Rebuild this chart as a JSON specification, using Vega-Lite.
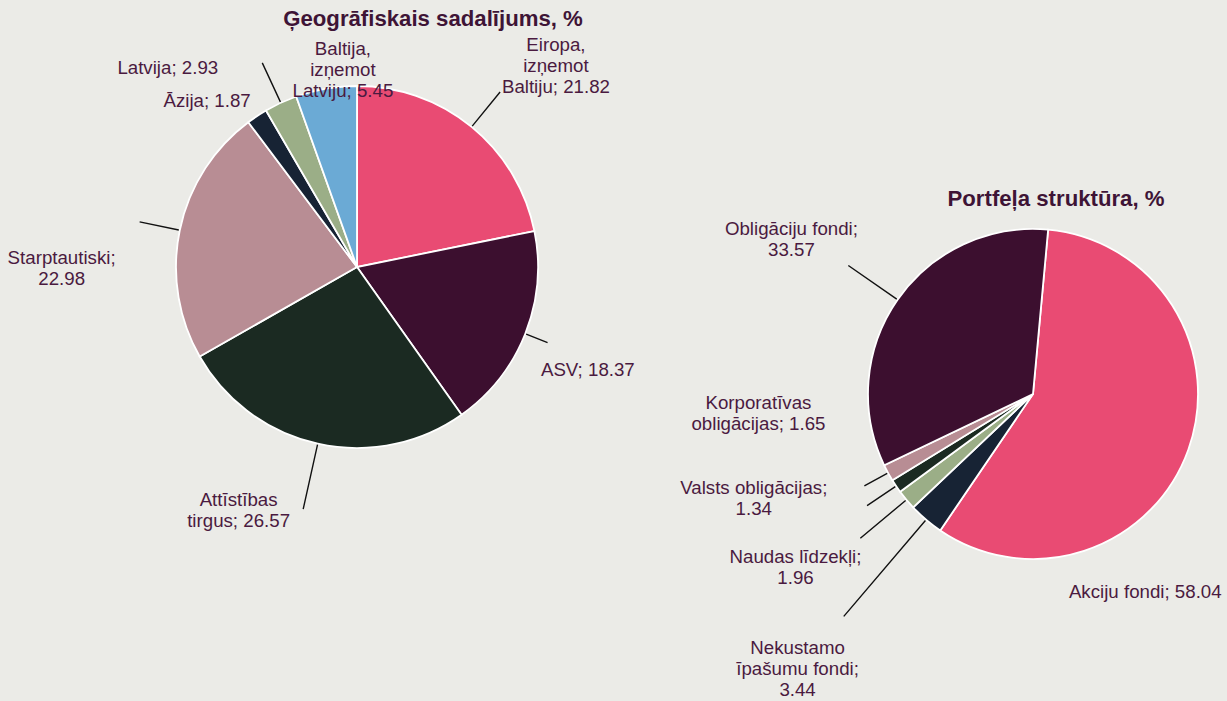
{
  "$schema": "https://vega.github.io/schema/vega-lite/v6.json",
  "background": "#EBEBE7",
  "padding": 0,
  "bounds": "flush",
  "spacing": 125,
  "config": {
    "view": {"stroke": null},
    "font": "Liberation Sans",
    "text": {"font": "Liberation Sans", "fontSize": 18.7, "lineHeight": 21, "color": "#4A1A40", "lineBreak": "\n", "baseline": "middle"},
    "title": {"font": "Liberation Sans", "fontSize": 22.2, "fontWeight": "bold", "color": "#3E1436", "anchor": "middle", "frame": "group"}
  },
  "resolve": {"scale": {"theta": "independent", "color": "independent"}},
  "datasets": {
    "geo": [
      {"k": 1, "cat": "Eiropa, izņemot Baltiju", "value": 21.82, "label": "Eiropa,\nizņemot\nBaltiju; 21.82"},
      {"k": 2, "cat": "ASV", "value": 18.37, "label": "ASV; 18.37"},
      {"k": 3, "cat": "Attīstības tirgus", "value": 26.57, "label": "Attīstības\ntirgus; 26.57"},
      {"k": 4, "cat": "Starptautiski", "value": 22.98, "label": "Starptautiski;\n22.98"},
      {"k": 5, "cat": "Āzija", "value": 1.87, "label": "Āzija; 1.87"},
      {"k": 6, "cat": "Latvija", "value": 2.93, "label": "Latvija; 2.93"},
      {"k": 7, "cat": "Baltija, izņemot Latviju", "value": 5.45, "label": "Baltija,\nizņemot\nLatviju; 5.45"}
    ],
    "port": [
      {"k": 1, "cat": "Akciju fondi", "value": 58.04, "label": "Akciju fondi; 58.04"},
      {"k": 2, "cat": "Nekustamo īpašumu fondi", "value": 3.44, "label": "Nekustamo\nīpašumu fondi;\n3.44"},
      {"k": 3, "cat": "Naudas līdzekļi", "value": 1.96, "label": "Naudas līdzekļi;\n1.96"},
      {"k": 4, "cat": "Valsts obligācijas", "value": 1.34, "label": "Valsts obligācijas;\n1.34"},
      {"k": 5, "cat": "Korporatīvas obligācijas", "value": 1.65, "label": "Korporatīvas\nobligācijas; 1.65"},
      {"k": 6, "cat": "Obligāciju fondi", "value": 33.57, "label": "Obligāciju fondi;\n33.57"}
    ]
  },
  "hconcat": [
    {
      "width": 714,
      "height": 534,
      "title": {"text": "Ģeogrāfiskais sadalījums, %", "dx": 76, "offset": -30},
      "data": {"name": "geo"},
      "transform": [
        {"stack": "value", "groupby": [], "sort": [{"field": "k", "order": "ascending"}], "as": ["v0", "v1"]},
        {"window": [{"op": "mean", "field": "v0", "as": "midA"}], "sort": [{"field": "k", "order": "ascending"}], "frame": [0, 1]},
        {"window": [{"op": "mean", "field": "v1", "as": "midB"}], "sort": [{"field": "k", "order": "ascending"}], "frame": [-1, 0]}
      ],
      "layer": [
        {
          "mark": {"type": "arc", "radius": 181, "stroke": "#ffffff", "strokeWidth": 1.8},
          "encoding": {
            "theta": {"field": "v0", "type": "quantitative", "scale": {"domain": [0, 99.99], "nice": false, "zero": true}},
            "theta2": {"field": "v1"},
            "color": {"field": "cat", "type": "nominal", "legend": null,
              "scale": {"domain": ["Eiropa, izņemot Baltiju", "ASV", "Attīstības tirgus", "Starptautiski", "Āzija", "Latvija", "Baltija, izņemot Latviju"],
                        "range": ["#E94B73", "#3C0F2F", "#1B2A22", "#B88D94", "#172334", "#9BAE87", "#6BAAD5"]}}
          }
        },
        {"transform": [{"filter": "datum.k === 1"}],
         "mark": {"type": "arc", "radius": 226, "radius2": 182, "padAngle": 3.14159, "filled": false, "color": "#111111", "strokeWidth": 1.4},
         "encoding": {"theta": {"field": "v0", "type": "quantitative", "scale": {"domain": [0, 99.99], "nice": false, "zero": true}}, "theta2": {"field": "v1"}}},
        {"transform": [{"filter": "datum.k === 2"}],
         "mark": {"type": "arc", "radius": 205, "radius2": 182, "padAngle": 3.14159, "filled": false, "color": "#111111", "strokeWidth": 1.4},
         "encoding": {"theta": {"field": "v0", "type": "quantitative", "scale": {"domain": [0, 99.99], "nice": false, "zero": true}}, "theta2": {"field": "v1"}}},
        {"transform": [{"filter": "datum.k === 3"}],
         "mark": {"type": "arc", "radius": 248, "radius2": 182, "padAngle": 3.14159, "filled": false, "color": "#111111", "strokeWidth": 1.4},
         "encoding": {"theta": {"field": "v0", "type": "quantitative", "scale": {"domain": [0, 99.99], "nice": false, "zero": true}}, "theta2": {"field": "v1"}}},
        {"transform": [{"filter": "datum.k === 4"}],
         "mark": {"type": "arc", "radius": 222, "radius2": 182, "padAngle": 3.14159, "filled": false, "color": "#111111", "strokeWidth": 1.4},
         "encoding": {"theta": {"field": "v0", "type": "quantitative", "scale": {"domain": [0, 99.99], "nice": false, "zero": true}}, "theta2": {"field": "v1"}}},
        {"transform": [{"filter": "datum.k === 6"}],
         "mark": {"type": "arc", "radius": 225, "radius2": 182, "padAngle": 3.14159, "filled": false, "color": "#111111", "strokeWidth": 1.4},
         "encoding": {"theta": {"field": "v0", "type": "quantitative", "scale": {"domain": [0, 99.99], "nice": false, "zero": true}}, "theta2": {"field": "v1"}}},
        {"transform": [{"filter": "datum.k === 1"}],
         "mark": {"type": "text", "radius": 285, "dx": 18.5, "dy": -1.5, "align": "center"},
         "encoding": {"theta": {"field": "midA", "type": "quantitative", "stack": null, "scale": {"domain": [0, 99.99], "nice": false, "zero": true}}, "text": {"field": "label", "type": "nominal"}}},
        {"transform": [{"filter": "datum.k === 2"}],
         "mark": {"type": "text", "radius": 200, "dx": -2, "dy": 29, "align": "left"},
         "encoding": {"theta": {"field": "midA", "type": "quantitative", "stack": null, "scale": {"domain": [0, 99.99], "nice": false, "zero": true}}, "text": {"field": "label", "type": "nominal"}}},
        {"transform": [{"filter": "datum.k === 3"}],
         "mark": {"type": "text", "radius": 260, "dx": -62, "dy": -21, "align": "center"},
         "encoding": {"theta": {"field": "midA", "type": "quantitative", "stack": null, "scale": {"domain": [0, 99.99], "nice": false, "zero": true}}, "text": {"field": "label", "type": "nominal"}}},
        {"transform": [{"filter": "datum.k === 4"}],
         "mark": {"type": "text", "radius": 270, "dx": -31, "dy": 46, "align": "center"},
         "encoding": {"theta": {"field": "midA", "type": "quantitative", "stack": null, "scale": {"domain": [0, 99.99], "nice": false, "zero": true}}, "text": {"field": "label", "type": "nominal"}}},
        {"transform": [{"filter": "datum.k === 5"}],
         "mark": {"type": "text", "radius": 205, "dx": 7, "dy": 5, "align": "right"},
         "encoding": {"theta": {"field": "midA", "type": "quantitative", "stack": null, "scale": {"domain": [0, 99.99], "nice": false, "zero": true}}, "text": {"field": "label", "type": "nominal"}}},
        {"transform": [{"filter": "datum.k === 6"}],
         "mark": {"type": "text", "radius": 230, "dx": -42, "dy": 10, "align": "right"},
         "encoding": {"theta": {"field": "midA", "type": "quantitative", "stack": null, "scale": {"domain": [0, 99.99], "nice": false, "zero": true}}, "text": {"field": "label", "type": "nominal"}}},
        {"transform": [{"filter": "datum.k === 7"}],
         "mark": {"type": "text", "radius": 200, "dx": 20, "dy": -21, "align": "center"},
         "encoding": {"theta": {"field": "midB", "type": "quantitative", "stack": null, "scale": {"domain": [0, 99.99], "nice": false, "zero": true}}, "text": {"field": "label", "type": "nominal"}}}
      ]
    },
    {
      "spacing": 0,
      "bounds": "flush",
      "vconcat": [
        {
          "width": 388,
          "height": 229,
          "data": {"values": [{}]},
          "mark": {"type": "text", "text": ""}
        },
        {
          "width": 388,
          "height": 330,
          "title": {"text": "Portfeļa struktūra, %", "dx": 23, "offset": 10},
          "data": {"name": "port"},
          "transform": [
            {"stack": "value", "groupby": [], "sort": [{"field": "k", "order": "ascending"}], "as": ["v0", "v1"]},
            {"window": [{"op": "mean", "field": "v0", "as": "midA"}], "sort": [{"field": "k", "order": "ascending"}], "frame": [0, 1]},
            {"window": [{"op": "mean", "field": "v1", "as": "midB"}], "sort": [{"field": "k", "order": "ascending"}], "frame": [-1, 0]}
          ],
          "layer": [
            {
              "mark": {"type": "arc", "radius": 165, "stroke": "#ffffff", "strokeWidth": 1.8},
              "encoding": {
                "theta": {"field": "v0", "type": "quantitative", "scale": {"domain": [0, 100], "nice": false, "zero": true, "range": [0.0918, 6.3750]}},
                "theta2": {"field": "v1"},
                "color": {"field": "cat", "type": "nominal", "legend": null,
                  "scale": {"domain": ["Akciju fondi", "Nekustamo īpašumu fondi", "Naudas līdzekļi", "Valsts obligācijas", "Korporatīvas obligācijas", "Obligāciju fondi"],
                            "range": ["#E94B73", "#172334", "#9BAE87", "#1B2A22", "#B88D94", "#3C0F2F"]}}
              }
            },
            {"transform": [{"filter": "datum.k === 2"}],
             "mark": {"type": "arc", "radius": 292, "radius2": 166, "padAngle": 3.14159, "filled": false, "color": "#111111", "strokeWidth": 1.4},
             "encoding": {"theta": {"field": "v0", "type": "quantitative", "scale": {"domain": [0, 100], "nice": false, "zero": true, "range": [0.0918, 6.3750]}}, "theta2": {"field": "v1"}}},
            {"transform": [{"filter": "datum.k === 3"}],
             "mark": {"type": "arc", "radius": 225, "radius2": 166, "padAngle": 3.14159, "filled": false, "color": "#111111", "strokeWidth": 1.4},
             "encoding": {"theta": {"field": "v0", "type": "quantitative", "scale": {"domain": [0, 100], "nice": false, "zero": true, "range": [0.0918, 6.3750]}}, "theta2": {"field": "v1"}}},
            {"transform": [{"filter": "datum.k === 4"}],
             "mark": {"type": "arc", "radius": 200, "radius2": 166, "padAngle": 3.14159, "filled": false, "color": "#111111", "strokeWidth": 1.4},
             "encoding": {"theta": {"field": "v0", "type": "quantitative", "scale": {"domain": [0, 100], "nice": false, "zero": true, "range": [0.0918, 6.3750]}}, "theta2": {"field": "v1"}}},
            {"transform": [{"filter": "datum.k === 5"}],
             "mark": {"type": "arc", "radius": 192, "radius2": 166, "padAngle": 3.14159, "filled": false, "color": "#111111", "strokeWidth": 1.4},
             "encoding": {"theta": {"field": "v0", "type": "quantitative", "scale": {"domain": [0, 100], "nice": false, "zero": true, "range": [0.0918, 6.3750]}}, "theta2": {"field": "v1"}}},
            {"transform": [{"filter": "datum.k === 6"}],
             "mark": {"type": "arc", "radius": 225, "radius2": 166, "padAngle": 3.14159, "filled": false, "color": "#111111", "strokeWidth": 1.4},
             "encoding": {"theta": {"field": "v0", "type": "quantitative", "scale": {"domain": [0, 100], "nice": false, "zero": true, "range": [0.0918, 6.3750]}}, "theta2": {"field": "v1"}}},
            {"transform": [{"filter": "datum.k === 1"}],
             "mark": {"type": "text", "radius": 200, "dx": -76, "dy": 130, "align": "center"},
             "encoding": {"theta": {"field": "midA", "type": "quantitative", "stack": null, "scale": {"domain": [0, 100], "nice": false, "zero": true, "range": [0.0918, 6.3750]}}, "text": {"field": "label", "type": "nominal"}}},
            {"transform": [{"filter": "datum.k === 2"}],
             "mark": {"type": "text", "radius": 300, "dx": -41, "dy": 25.5, "align": "center"},
             "encoding": {"theta": {"field": "midA", "type": "quantitative", "stack": null, "scale": {"domain": [0, 100], "nice": false, "zero": true, "range": [0.0918, 6.3750]}}, "text": {"field": "label", "type": "nominal"}}},
            {"transform": [{"filter": "datum.k === 3"}],
             "mark": {"type": "text", "radius": 260, "dx": -38, "dy": -4, "align": "center"},
             "encoding": {"theta": {"field": "midA", "type": "quantitative", "stack": null, "scale": {"domain": [0, 100], "nice": false, "zero": true, "range": [0.0918, 6.3750]}}, "text": {"field": "label", "type": "nominal"}}},
            {"transform": [{"filter": "datum.k === 4"}],
             "mark": {"type": "text", "radius": 298, "dx": -32, "dy": -72, "align": "center"},
             "encoding": {"theta": {"field": "midA", "type": "quantitative", "stack": null, "scale": {"domain": [0, 100], "nice": false, "zero": true, "range": [0.0918, 6.3750]}}, "text": {"field": "label", "type": "nominal"}}},
            {"transform": [{"filter": "datum.k === 5"}],
             "mark": {"type": "text", "radius": 275, "dx": -33, "dy": -122, "align": "center"},
             "encoding": {"theta": {"field": "midA", "type": "quantitative", "stack": null, "scale": {"domain": [0, 100], "nice": false, "zero": true, "range": [0.0918, 6.3750]}}, "text": {"field": "label", "type": "nominal"}}},
            {"transform": [{"filter": "datum.k === 6"}],
             "mark": {"type": "text", "radius": 287, "dx": -6, "dy": -1, "align": "center"},
             "encoding": {"theta": {"field": "midB", "type": "quantitative", "stack": null, "scale": {"domain": [0, 100], "nice": false, "zero": true, "range": [0.0918, 6.3750]}}, "text": {"field": "label", "type": "nominal"}}}
          ]
        },
        {
          "width": 388,
          "height": 142,
          "data": {"values": [{}]},
          "mark": {"type": "text", "text": ""}
        }
      ]
    }
  ]
}
